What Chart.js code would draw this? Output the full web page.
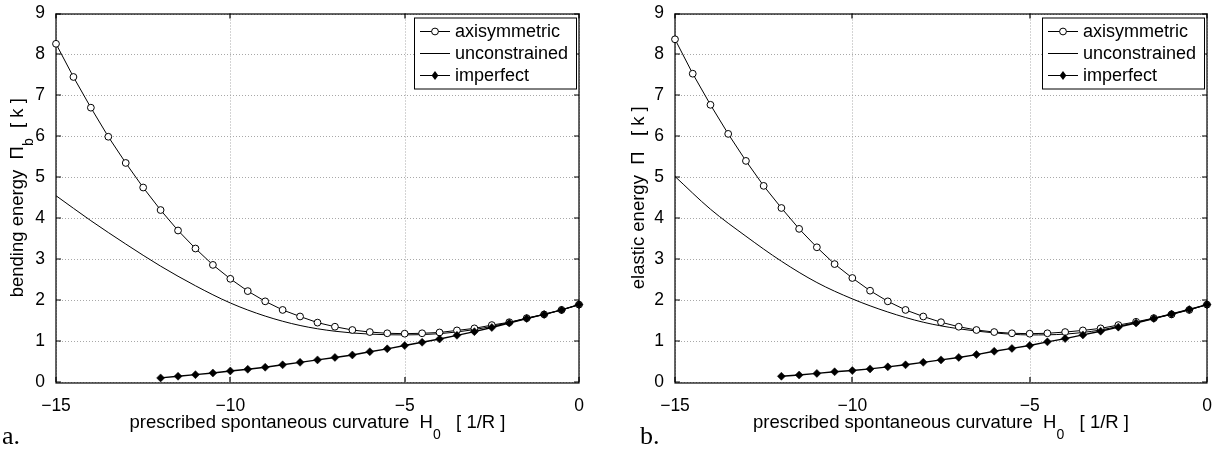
<!DOCTYPE html>
<html>
<head>
<meta charset="utf-8">
<script src="https://cdn.jsdelivr.net/npm/chart.js@4.4.1/dist/chart.umd.min.js"></script>
<style>
  body { margin: 0; background: #fff; width: 1222px; height: 454px; overflow: hidden; position: relative; }
  canvas { position: absolute; top: 0; }
</style>
</head>
<body>
<canvas id="chartA" width="611" height="454" style="left:0"></canvas>
<canvas id="chartB" width="611" height="454" style="left:611px"></canvas>
<script>
// spontaneous curvature H0 for each series
const hAxi = [-15, -14.5, -14, -13.5, -13, -12.5, -12, -11.5, -11, -10.5, -10, -9.5, -9, -8.5, -8, -7.5,
  -7, -6.5, -6, -5.5, -5, -4.5, -4, -3.5, -3, -2.5, -2, -1.5, -1, -0.5, 0];
const hUnc = [-15, -14, -13, -12, -11, -10, -9, -8, -7, -6, -5, -4, -3, -2.5, -2, -1.5, -1, -0.5, 0];
const hImp = [-12, -11.5, -11, -10.5, -10, -9.5, -9, -8.5, -8, -7.5, -7, -6.5, -6, -5.5, -5, -4.5,
  -4, -3.5, -3, -2.5, -2, -1.5, -1, -0.5, 0];

// panel a: bending energy
const axiA = [8.26, 7.45, 6.70, 5.99, 5.35, 4.75, 4.20, 3.70, 3.26, 2.86, 2.52, 2.22, 1.97, 1.76, 1.60, 1.45,
  1.35, 1.27, 1.22, 1.19, 1.18, 1.19, 1.21, 1.26, 1.31, 1.39, 1.46, 1.56, 1.65, 1.76, 1.89];
const uncA = [4.55, 3.94, 3.37, 2.83, 2.35, 1.93, 1.61, 1.38, 1.24, 1.17, 1.15, 1.18, 1.28, 1.36, 1.45, 1.55, 1.65, 1.76, 1.89];
const impA = [0.10, 0.14, 0.18, 0.22, 0.27, 0.31, 0.36, 0.42, 0.48, 0.54, 0.60, 0.66, 0.74, 0.81, 0.89, 0.97,
  1.05, 1.14, 1.23, 1.33, 1.44, 1.55, 1.65, 1.76, 1.89];

// panel b: elastic energy
const axiB = [8.37, 7.53, 6.77, 6.06, 5.40, 4.79, 4.25, 3.74, 3.29, 2.88, 2.54, 2.23, 1.97, 1.76, 1.60, 1.46,
  1.35, 1.27, 1.22, 1.19, 1.18, 1.19, 1.22, 1.26, 1.31, 1.39, 1.47, 1.56, 1.65, 1.76, 1.89];
const uncB = [5.02, 4.22, 3.56, 2.95, 2.43, 2.03, 1.71, 1.46, 1.30, 1.20, 1.15, 1.17, 1.27, 1.36, 1.45, 1.55, 1.66, 1.77, 1.89];
const impB = [0.14, 0.17, 0.21, 0.25, 0.28, 0.32, 0.37, 0.42, 0.48, 0.54, 0.60, 0.67, 0.75, 0.82, 0.89, 0.98,
  1.06, 1.15, 1.24, 1.34, 1.44, 1.55, 1.66, 1.77, 1.89];

const seriesNames = ['axisymmetric', 'unconstrained', 'imperfect'];
const xTicks = [-15, -10, -5, 0];
const yTicks = [0, 1, 2, 3, 4, 5, 6, 7, 8, 9];

const sans = '"Liberation Sans", Arial, Helvetica, sans-serif';
const serif = '"Liberation Serif", "Times New Roman", serif';

function pts(xs, ys) {
  return xs.map((x, i) => ({ x: x, y: ys[i] }));
}

function minus(v) {
  return v < 0 ? '\u2212' + Math.abs(v) : String(v);
}

// draw a line of text made of pieces, some of them subscripts
function drawParts(ctx, parts, cx, baseY) {
  let total = 0;
  parts.forEach(p => {
    ctx.font = p.size + 'px ' + sans;
    p.w = ctx.measureText(p.t).width;
    total += p.w;
  });
  let x = cx - total / 2;
  ctx.textAlign = 'left';
  ctx.textBaseline = 'alphabetic';
  parts.forEach(p => {
    ctx.font = p.size + 'px ' + sans;
    ctx.fillText(p.t, x, baseY + (p.dy || 0));
    x += p.w;
  });
}

function marker(ctx, style, x, y) {
  ctx.lineWidth = 1;
  ctx.strokeStyle = '#000';
  if (style === 'circle') {
    ctx.fillStyle = '#fff';
    ctx.beginPath();
    ctx.arc(x, y, 3.4, 0, Math.PI * 2);
    ctx.fill();
    ctx.stroke();
  } else if (style === 'rectRot') {
    ctx.fillStyle = '#000';
    ctx.beginPath();
    ctx.moveTo(x, y - 4.4);
    ctx.lineTo(x + 3.4, y);
    ctx.lineTo(x, y + 4.4);
    ctx.lineTo(x - 3.4, y);
    ctx.closePath();
    ctx.fill();
  }
}

const framePlugin = {
  id: 'frame',
  beforeDatasetsDraw(chart) {
    const { ctx, chartArea: a, scales: { x, y } } = chart;
    ctx.save();
    // dotted grid
    ctx.strokeStyle = '#a8a8a8';
    ctx.lineWidth = 1;
    ctx.setLineDash([1, 2]);
    x.ticks.forEach(t => {
      const px = Math.round(x.getPixelForValue(t.value)) + 0.5;
      ctx.beginPath(); ctx.moveTo(px, a.top); ctx.lineTo(px, a.bottom); ctx.stroke();
    });
    y.ticks.forEach(t => {
      const py = Math.round(y.getPixelForValue(t.value)) + 0.5;
      ctx.beginPath(); ctx.moveTo(a.left, py); ctx.lineTo(a.right, py); ctx.stroke();
    });
    ctx.setLineDash([]);
    // axes box and inward ticks
    ctx.strokeStyle = '#000';
    ctx.lineWidth = 1.2;
    ctx.strokeRect(Math.round(a.left), Math.round(a.top), Math.round(a.width), Math.round(a.height));
    const tl = 5;
    ctx.beginPath();
    x.ticks.forEach(t => {
      const px = Math.round(x.getPixelForValue(t.value));
      ctx.moveTo(px, a.bottom); ctx.lineTo(px, a.bottom - tl);
      ctx.moveTo(px, a.top); ctx.lineTo(px, a.top + tl);
    });
    y.ticks.forEach(t => {
      const py = Math.round(y.getPixelForValue(t.value));
      ctx.moveTo(a.left, py); ctx.lineTo(a.left + tl, py);
      ctx.moveTo(a.right, py); ctx.lineTo(a.right - tl, py);
    });
    ctx.stroke();
    ctx.restore();
  },
  afterDraw(chart, args, opts) {
    const { ctx, chartArea: a } = chart;
    ctx.save();
    ctx.fillStyle = '#000';

    // legend box
    const bw = 162, bh = 71;
    const bx = a.right - 3 - bw, by = a.top + 4;
    ctx.fillStyle = '#fff';
    ctx.fillRect(bx, by, bw, bh);
    ctx.strokeStyle = '#000';
    ctx.lineWidth = 1;
    ctx.strokeRect(bx + 0.5, by + 0.5, bw, bh);
    chart.data.datasets.forEach((ds, i) => {
      const ry = by + 14 + i * 22;
      ctx.strokeStyle = '#000';
      ctx.lineWidth = 1;
      ctx.beginPath(); ctx.moveTo(bx + 6, ry); ctx.lineTo(bx + 36, ry); ctx.stroke();
      if (ds.pointRadius > 0) marker(ctx, ds.pointStyle, bx + 21, ry);
      ctx.fillStyle = '#000';
      ctx.font = '18px ' + sans;
      ctx.textAlign = 'left';
      ctx.textBaseline = 'middle';
      ctx.fillText(ds.label, bx + 41, ry + 1);
    });

    // x title
    ctx.fillStyle = '#000';
    drawParts(ctx, opts.xTitle, (a.left + a.right) / 2, 428);

    // y title, rotated
    ctx.save();
    ctx.translate(opts.yTitleX, (a.top + a.bottom) / 2);
    ctx.rotate(-Math.PI / 2);
    drawParts(ctx, opts.yTitle, 0, 0);
    ctx.restore();

    // panel letter
    ctx.font = '26px ' + serif;
    ctx.textAlign = 'left';
    ctx.textBaseline = 'alphabetic';
    ctx.fillText(opts.panel, opts.panelX, 444);
    ctx.restore();
  }
};

function makeChart(id, axi, unc, imp, axisWidth, padRight, yTitle, yTitleX, panel, panelX) {
  return new Chart(document.getElementById(id), {
    type: 'line',
    data: {
      datasets: [
        {
          label: seriesNames[0], data: pts(hAxi, axi), order: 2,
          borderColor: '#000', borderWidth: 1, tension: 0,
          pointStyle: 'circle', pointRadius: 3.4, pointBackgroundColor: '#fff',
          pointBorderColor: '#000', pointBorderWidth: 1, clip: false
        },
        {
          label: seriesNames[1], data: pts(hUnc, unc), order: 3,
          borderColor: '#000', borderWidth: 1, cubicInterpolationMode: 'monotone',
          pointRadius: 0, clip: false
        },
        {
          label: seriesNames[2], data: pts(hImp, imp), order: 1,
          borderColor: '#000', borderWidth: 1.4, tension: 0,
          pointStyle: 'rectRot', pointRadius: 4, pointBackgroundColor: '#000',
          pointBorderColor: '#000', pointBorderWidth: 0.5, clip: false
        }
      ]
    },
    options: {
      responsive: false,
      animation: false,
      devicePixelRatio: 1,
      layout: { padding: { top: 11, right: padRight, left: 0, bottom: 0 } },
      plugins: {
        legend: { display: false },
        tooltip: { enabled: false },
        frame: {
          xTitle: [
            { t: 'prescribed spontaneous curvature  H', size: 18.5 },
            { t: '0', size: 14, dy: 11 },
            { t: '   [ 1/R ]', size: 18.5 }
          ],
          yTitle: yTitle,
          yTitleX: yTitleX,
          panel: panel,
          panelX: panelX
        }
      },
      scales: {
        x: {
          type: 'linear', min: -15, max: 0,
          afterBuildTicks: s => { s.ticks = xTicks.map(v => ({ value: v })); },
          afterFit: s => { s.height = 72; },
          grid: { display: false },
          border: { display: false },
          ticks: {
            color: '#000', padding: 6, maxRotation: 0,
            font: { family: sans, size: 17.5 },
            callback: v => minus(v)
          }
        },
        y: {
          type: 'linear', min: 0, max: 9,
          afterBuildTicks: s => { s.ticks = yTicks.map(v => ({ value: v })); },
          afterFit: s => { s.width = axisWidth; },
          grid: { display: false },
          border: { display: false },
          ticks: {
            color: '#000', padding: 3,
            font: { family: sans, size: 17.5 }
          }
        }
      }
    },
    plugins: [framePlugin]
  });
}

makeChart('chartA', axiA, uncA, impA, 56, 32,
  [{ t: 'bending energy  \u03A0', size: 18.5 }, { t: 'b', size: 14, dy: 10 }, { t: '  [ k ]', size: 18.5 }],
  23, 'a.', 2);
makeChart('chartB', axiB, uncB, impB, 64, 15,
  [{ t: 'elastic energy  \u03A0   [ k ]', size: 18.5 }],
  33, 'b.', 29);
</script>
</body>
</html>
